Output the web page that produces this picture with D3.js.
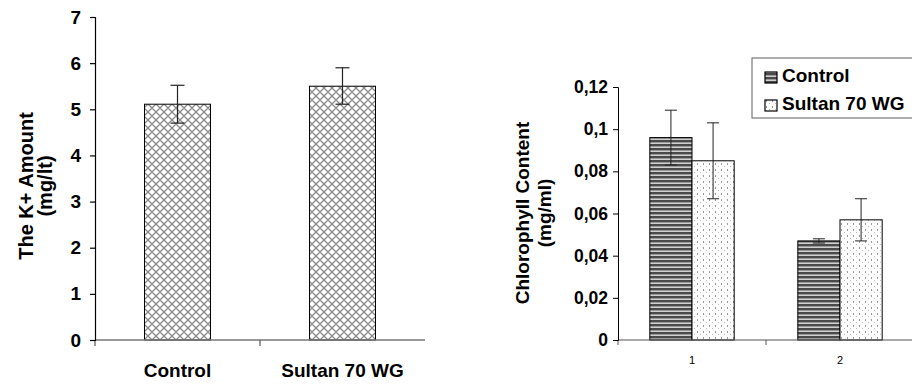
<!DOCTYPE html>
<html>
<head>
<meta charset="utf-8">
<script src="https://cdn.jsdelivr.net/npm/d3@7"></script>
<style>
  body { margin: 0; background: #fff; }
  svg { display: block; font-family: "Liberation Sans", Arial, sans-serif; }
</style>
</head>
<body>
<div id="chart"></div>
<script>
// left chart: K+ amount
const kCategories = ['Control', 'Sultan 70 WG'];
const kValues = [5.11, 5.5];
const kErrLow = [4.7, 5.11];
const kErrHigh = [5.52, 5.9];
const kTicks = [0, 1, 2, 3, 4, 5, 6, 7];

// right chart: chlorophyll
const chlGroups = ['1', '2'];
const chlSeries = ['Control', 'Sultan 70 WG'];
const chlControl = [0.096, 0.047];
const chlSultan = [0.085, 0.057];
const chlControlLow = [0.083, 0.046];
const chlControlHigh = [0.109, 0.048];
const chlSultanLow = [0.067, 0.047];
const chlSultanHigh = [0.103, 0.067];
const chlTicks = [0, 0.02, 0.04, 0.06, 0.08, 0.1, 0.12];

const W = 912, H = 385;
const svg = d3.select('#chart').append('svg').attr('width', W).attr('height', H);

// patterns
const defs = svg.append('defs');
const cross = defs.append('pattern').attr('id', 'cross')
  .attr('patternUnits', 'userSpaceOnUse').attr('width', 8).attr('height', 8);
cross.append('rect').attr('width', 8).attr('height', 8).attr('fill', '#fff');
cross.append('path').attr('d', 'M0,4 Q2,2 4,0 Q6,2 8,4 Q6,6 4,8 Q2,6 0,4 Z')
  .attr('fill', 'none').attr('stroke', '#8a8a8a').attr('stroke-width', 1.3);

const stripes = defs.append('pattern').attr('id', 'stripes')
  .attr('patternUnits', 'userSpaceOnUse').attr('width', 4).attr('height', 4);
stripes.append('rect').attr('width', 4).attr('height', 4).attr('fill', '#cfcfcf');
stripes.append('rect').attr('y', 0).attr('width', 4).attr('height', 2).attr('fill', '#4a4a4a');
stripes.append('rect').attr('y', 2).attr('width', 4).attr('height', 1).attr('fill', '#9a9a9a');

const dots = defs.append('pattern').attr('id', 'dots')
  .attr('patternUnits', 'userSpaceOnUse').attr('width', 6).attr('height', 6);
dots.append('rect').attr('width', 6).attr('height', 6).attr('fill', '#fff');
dots.append('rect').attr('x', 1).attr('y', 1).attr('width', 1).attr('height', 2).attr('fill', '#999');
dots.append('rect').attr('x', 4).attr('y', 4).attr('width', 1).attr('height', 1).attr('fill', '#bbb');

const FONT = '"Liberation Sans", Arial, sans-serif';

// ---------- left chart ----------
const yK = d3.scaleLinear().domain([0, 7]).range([340, 17]);
const xK = d3.scaleBand().domain(kCategories).range([95, 425]);
const kBarW = xK.bandwidth() * 0.4;

const left = svg.append('g');

left.selectAll('rect.bar').data(kCategories).join('rect')
  .attr('class', 'bar')
  .attr('x', d => xK(d) + xK.bandwidth() / 2 - kBarW / 2)
  .attr('y', (d, i) => yK(kValues[i]))
  .attr('width', kBarW)
  .attr('height', (d, i) => yK(0) - yK(kValues[i]))
  .attr('fill', 'url(#cross)')
  .attr('stroke', '#000').attr('stroke-width', 1);

// x axis line + ticks at band edges
left.append('line')
  .attr('x1', xK.range()[0]).attr('x2', xK.range()[1])
  .attr('y1', yK(0)).attr('y2', yK(0))
  .attr('stroke', '#777').attr('stroke-width', 1.5);
left.selectAll('line.xt').data([xK.range()[0], xK(kCategories[1])]).join('line')
  .attr('class', 'xt')
  .attr('x1', d => d).attr('x2', d => d)
  .attr('y1', yK(0)).attr('y2', yK(0) + 6)
  .attr('stroke', '#555').attr('stroke-width', 1.2);

const kAxis = left.append('g')
  .attr('transform', 'translate(95,0)')
  .call(d3.axisLeft(yK).tickValues(kTicks).tickSize(5).tickPadding(9).tickFormat(d3.format('d')));
kAxis.selectAll('text').attr('font-size', 19).attr('font-weight', 'bold').attr('fill', '#000')
  .attr('font-family', FONT);
kAxis.selectAll('line, path').attr('stroke', '#000').attr('stroke-width', 1.2);

// error bars
const kErr = left.append('g').attr('stroke', '#222').attr('stroke-width', 1.2);
kCategories.forEach((c, i) => {
  const cx = xK(c) + xK.bandwidth() / 2;
  kErr.append('line').attr('x1', cx).attr('x2', cx).attr('y1', yK(kErrHigh[i])).attr('y2', yK(kErrLow[i]));
  kErr.append('line').attr('x1', cx - 7).attr('x2', cx + 7).attr('y1', yK(kErrHigh[i])).attr('y2', yK(kErrHigh[i]));
  kErr.append('line').attr('x1', cx - 7).attr('x2', cx + 7).attr('y1', yK(kErrLow[i])).attr('y2', yK(kErrLow[i]));
});

left.selectAll('text.xl').data(kCategories).join('text')
  .attr('class', 'xl')
  .attr('x', d => xK(d) + xK.bandwidth() / 2)
  .attr('y', 377)
  .attr('text-anchor', 'middle')
  .attr('font-size', 19).attr('font-weight', 'bold')
  .text(d => d);

left.append('text')
  .attr('transform', 'translate(33,186) rotate(-90)')
  .attr('text-anchor', 'middle').attr('font-size', 20).attr('font-weight', 'bold')
  .text('The K+ Amount');
left.append('text')
  .attr('transform', 'translate(52,186) rotate(-90)')
  .attr('text-anchor', 'middle').attr('font-size', 20).attr('font-weight', 'bold')
  .text('(mg/lt)');

// ---------- right chart ----------
const commaFmt = d3.formatLocale({ decimal: ',', thousands: '.', grouping: [3], currency: ['', ''] }).format('~g');
const yC = d3.scaleLinear().domain([0, 0.12]).range([340, 87]);
const x0 = d3.scaleBand().domain(chlGroups).range([618, 914]);
const x1 = d3.scaleBand().domain(chlSeries).range([0, x0.bandwidth() * 0.57]);
const groupOffset = (x0.bandwidth() - x1.range()[1]) / 2;

const right = svg.append('g');

const chlRows = chlGroups.map((g, i) => [
  { g, s: chlSeries[0], v: chlControl[i], lo: chlControlLow[i], hi: chlControlHigh[i], fill: 'url(#stripes)' },
  { g, s: chlSeries[1], v: chlSultan[i], lo: chlSultanLow[i], hi: chlSultanHigh[i], fill: 'url(#dots)' }
]).flat();

right.selectAll('rect.bar').data(chlRows).join('rect')
  .attr('class', 'bar')
  .attr('x', d => x0(d.g) + groupOffset + x1(d.s))
  .attr('y', d => yC(d.v))
  .attr('width', x1.bandwidth())
  .attr('height', d => yC(0) - yC(d.v))
  .attr('fill', d => d.fill)
  .attr('stroke', '#000').attr('stroke-width', 1);

right.append('line')
  .attr('x1', x0.range()[0]).attr('x2', x0.range()[1])
  .attr('y1', yC(0)).attr('y2', yC(0))
  .attr('stroke', '#555').attr('stroke-width', 1.2);
right.selectAll('line.xt').data([x0.range()[0], x0('2')]).join('line')
  .attr('class', 'xt')
  .attr('x1', d => d).attr('x2', d => d)
  .attr('y1', yC(0)).attr('y2', yC(0) + 5)
  .attr('stroke', '#555').attr('stroke-width', 1);

const cAxis = right.append('g')
  .attr('transform', 'translate(618,0)')
  .call(d3.axisLeft(yC).tickValues(chlTicks).tickSize(5).tickPadding(5).tickFormat(commaFmt));
cAxis.selectAll('text').attr('font-size', 17.5).attr('font-weight', 'bold').attr('fill', '#000')
  .attr('font-family', FONT);
cAxis.selectAll('line, path').attr('stroke', '#000').attr('stroke-width', 1);

const cErr = right.append('g').attr('stroke', '#222').attr('stroke-width', 1);
chlRows.forEach(d => {
  const cx = x0(d.g) + groupOffset + x1(d.s) + x1.bandwidth() / 2;
  cErr.append('line').attr('x1', cx).attr('x2', cx).attr('y1', yC(d.hi)).attr('y2', yC(d.lo));
  cErr.append('line').attr('x1', cx - 6).attr('x2', cx + 6).attr('y1', yC(d.hi)).attr('y2', yC(d.hi));
  cErr.append('line').attr('x1', cx - 6).attr('x2', cx + 6).attr('y1', yC(d.lo)).attr('y2', yC(d.lo));
});

right.selectAll('text.xl').data(chlGroups).join('text')
  .attr('class', 'xl')
  .attr('x', d => x0(d) + groupOffset + x1.range()[1] / 2)
  .attr('y', 364)
  .attr('text-anchor', 'middle')
  .attr('font-size', 11)
  .text(d => d);

right.append('text')
  .attr('transform', 'translate(529,213) rotate(-90)')
  .attr('text-anchor', 'middle').attr('font-size', 19).attr('font-weight', 'bold')
  .text('Chlorophyll Content');
right.append('text')
  .attr('transform', 'translate(551,213) rotate(-90)')
  .attr('text-anchor', 'middle').attr('font-size', 19).attr('font-weight', 'bold')
  .text('(mg/ml)');

// legend
const legend = right.append('g').attr('transform', 'translate(752,58)');
legend.append('rect').attr('width', 170).attr('height', 60)
  .attr('fill', '#fff').attr('stroke', '#777').attr('stroke-width', 1.2);
const legendFills = ['url(#stripes)', 'url(#dots)'];
chlSeries.forEach((s, i) => {
  const row = legend.append('g').attr('transform', `translate(13,${19 + i * 28})`);
  row.append('rect').attr('x', 0).attr('y', -5).attr('width', 12).attr('height', 11)
    .attr('fill', legendFills[i]).attr('stroke', '#000').attr('stroke-width', 1.2);
  row.append('text').attr('x', 17).attr('y', 5)
    .attr('font-size', 19).attr('font-weight', 'bold').text(s);
});
</script>
</body>
</html>
